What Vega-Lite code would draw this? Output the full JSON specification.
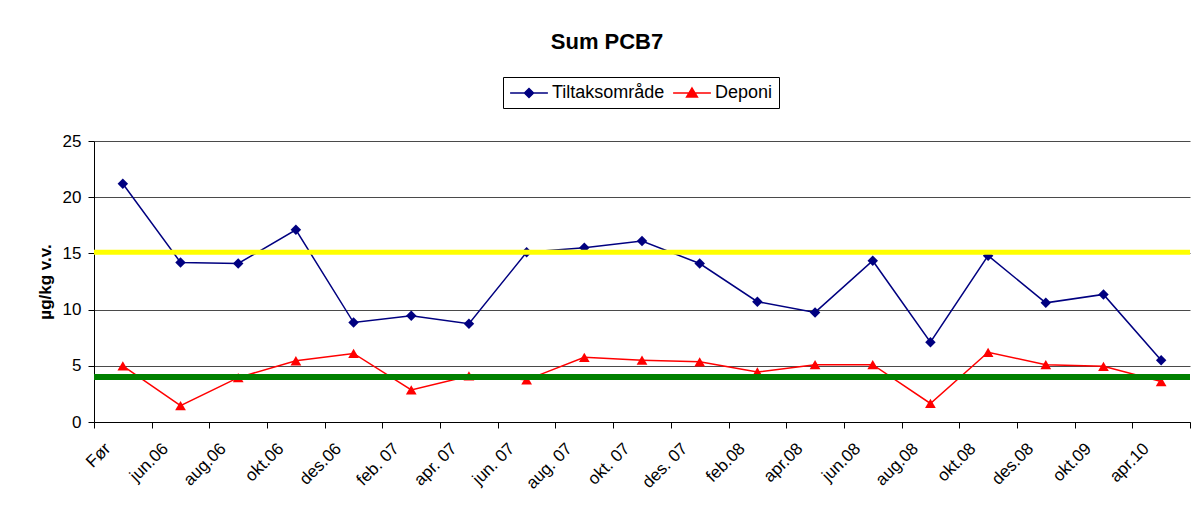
{
  "$schema": "https://vega.github.io/schema/vega-lite/v6.json",
  "autosize": {"type": "none"},
  "padding": {"left": 94, "top": 141, "right": 2, "bottom": 84},
  "width": 1096,
  "height": 281,
  "background": "#ffffff",
  "config": {
    "font": "Liberation Sans",
    "view": {"stroke": null}
  },
  "title": {
    "text": "Sum PCB7",
    "font": "Liberation Sans",
    "fontSize": 22,
    "fontWeight": "bold",
    "color": "#000000",
    "anchor": "middle",
    "frame": "group",
    "baseline": "alphabetic",
    "dx": -35,
    "offset": 6
  },
  "datasets": {
    "maalinger": [
      {"dato": "Før", "serie": "Tiltaksområde", "verdi": 21.2},
      {"dato": "jun.06", "serie": "Tiltaksområde", "verdi": 14.2},
      {"dato": "aug.06", "serie": "Tiltaksområde", "verdi": 14.1},
      {"dato": "okt.06", "serie": "Tiltaksområde", "verdi": 17.1},
      {"dato": "des.06", "serie": "Tiltaksområde", "verdi": 8.85},
      {"dato": "feb. 07", "serie": "Tiltaksområde", "verdi": 9.45},
      {"dato": "apr. 07", "serie": "Tiltaksområde", "verdi": 8.75},
      {"dato": "jun. 07", "serie": "Tiltaksområde", "verdi": 15.1},
      {"dato": "aug. 07", "serie": "Tiltaksområde", "verdi": 15.5},
      {"dato": "okt. 07", "serie": "Tiltaksområde", "verdi": 16.1},
      {"dato": "des. 07", "serie": "Tiltaksområde", "verdi": 14.1},
      {"dato": "feb.08", "serie": "Tiltaksområde", "verdi": 10.7},
      {"dato": "apr.08", "serie": "Tiltaksområde", "verdi": 9.75},
      {"dato": "jun.08", "serie": "Tiltaksområde", "verdi": 14.35},
      {"dato": "aug.08", "serie": "Tiltaksområde", "verdi": 7.1},
      {"dato": "okt.08", "serie": "Tiltaksområde", "verdi": 14.8},
      {"dato": "des.08", "serie": "Tiltaksområde", "verdi": 10.6},
      {"dato": "okt.09", "serie": "Tiltaksområde", "verdi": 11.35},
      {"dato": "apr.10", "serie": "Tiltaksområde", "verdi": 5.5},
      {"dato": "Før", "serie": "Deponi", "verdi": 5.0},
      {"dato": "jun.06", "serie": "Deponi", "verdi": 1.45},
      {"dato": "aug.06", "serie": "Deponi", "verdi": 3.95},
      {"dato": "okt.06", "serie": "Deponi", "verdi": 5.45},
      {"dato": "des.06", "serie": "Deponi", "verdi": 6.1},
      {"dato": "feb. 07", "serie": "Deponi", "verdi": 2.85},
      {"dato": "apr. 07", "serie": "Deponi", "verdi": 4.1},
      {"dato": "jun. 07", "serie": "Deponi", "verdi": 3.75},
      {"dato": "aug. 07", "serie": "Deponi", "verdi": 5.75},
      {"dato": "okt. 07", "serie": "Deponi", "verdi": 5.5},
      {"dato": "des. 07", "serie": "Deponi", "verdi": 5.35},
      {"dato": "feb.08", "serie": "Deponi", "verdi": 4.45},
      {"dato": "apr.08", "serie": "Deponi", "verdi": 5.1},
      {"dato": "jun.08", "serie": "Deponi", "verdi": 5.1},
      {"dato": "aug.08", "serie": "Deponi", "verdi": 1.65},
      {"dato": "okt.08", "serie": "Deponi", "verdi": 6.2},
      {"dato": "des.08", "serie": "Deponi", "verdi": 5.1},
      {"dato": "okt.09", "serie": "Deponi", "verdi": 4.95},
      {"dato": "apr.10", "serie": "Deponi", "verdi": 3.6}
    ],
    "grenser": [
      {"navn": "øvre", "verdi": 15.1},
      {"navn": "nedre", "verdi": 4.0}
    ]
  },
  "layer": [
    {
      "data": {"name": "maalinger"},
      "encoding": {
        "x": {
          "field": "dato",
          "type": "ordinal",
          "sort": null,
          "scale": {"paddingInner": 0, "paddingOuter": 0},
          "axis": {
            "title": null,
            "tickBand": "extent",
            "labelAngle": -45,
            "labelAlign": "right",
            "labelBaseline": "top",
            "labelOffset": -21,
            "labelPadding": 12,
            "labelFont": "Liberation Sans",
            "labelFontSize": 17,
            "labelColor": "#000000",
            "tickSize": 6,
            "tickColor": "#000000",
            "domainColor": "#000000",
            "grid": false,
            "labelOverlap": false
          }
        },
        "y": {
          "field": "verdi",
          "type": "quantitative",
          "scale": {"domain": [0, 25], "nice": false},
          "axis": {
            "title": "µg/kg v.v.",
            "titleFont": "Liberation Sans",
            "titleFontSize": 17,
            "titleFontWeight": "bold",
            "titleColor": "#000000",
            "titlePadding": 8,
            "values": [0, 5, 10, 15, 20, 25],
            "labelFont": "Liberation Sans",
            "labelFontSize": 17,
            "labelColor": "#000000",
            "labelPadding": 7,
            "tickSize": 6,
            "tickColor": "#000000",
            "domainColor": "#000000",
            "grid": true,
            "gridColor": "#4a4a4a",
            "gridWidth": 1
          }
        },
        "color": {
          "field": "serie",
          "type": "nominal",
          "sort": null,
          "scale": {"domain": ["Deponi", "Tiltaksområde"], "range": ["#FF0000", "#000080"]},
          "legend": null
        }
      },
      "layer": [
        {"mark": {"type": "line", "strokeWidth": 1.5}},
        {
          "transform": [{"filter": "datum.serie === 'Tiltaksområde'"}],
          "mark": {"type": "point", "shape": "diamond", "filled": true, "opacity": 1, "size": 110}
        },
        {
          "transform": [{"filter": "datum.serie === 'Deponi'"}],
          "mark": {"type": "point", "shape": "triangle-up", "filled": true, "opacity": 1, "size": 115}
        }
      ]
    },
    {
      "data": {"name": "grenser"},
      "transform": [{"filter": "datum.navn === 'øvre'"}],
      "mark": {"type": "rule", "color": "#FFFF00", "strokeWidth": 5},
      "encoding": {"y": {"field": "verdi", "type": "quantitative"}}
    },
    {
      "data": {"name": "grenser"},
      "transform": [{"filter": "datum.navn === 'nedre'"}],
      "mark": {"type": "rule", "color": "#008000", "strokeWidth": 6},
      "encoding": {"y": {"field": "verdi", "type": "quantitative"}}
    },
    {
      "data": {"name": "maalinger"},
      "mark": {"type": "point", "filled": true, "opacity": 0, "strokeWidth": 1.5},
      "encoding": {
        "fill": {
          "field": "serie",
          "type": "nominal",
          "sort": null,
          "scale": {"domain": ["Tiltaksområde", "Deponi"], "range": ["#000080", "#FF0000"]},
          "legend": {
            "orient": "none",
            "legendX": 409,
            "legendY": -64,
            "direction": "horizontal",
            "title": null,
            "strokeColor": "#000000",
            "fillColor": "#ffffff",
            "padding": 6,
            "symbolSize": 324,
            "symbolOffset": 10,
            "symbolOpacity": 1,
            "symbolStrokeWidth": 1.5,
            "labelOffset": 13,
            "columnPadding": 5,
            "labelFont": "Liberation Sans",
            "labelFontSize": 18,
            "labelColor": "#000000"
          }
        },
        "stroke": {
          "field": "serie",
          "type": "nominal",
          "sort": null,
          "scale": {"domain": ["Tiltaksområde", "Deponi"], "range": ["#000080", "#FF0000"]},
          "legend": {
            "orient": "none",
            "legendX": 409,
            "legendY": -64,
            "direction": "horizontal",
            "title": null,
            "strokeColor": "#000000",
            "fillColor": "#ffffff",
            "padding": 6,
            "symbolSize": 324,
            "symbolOffset": 10,
            "symbolOpacity": 1,
            "symbolStrokeWidth": 1.5,
            "labelOffset": 13,
            "columnPadding": 5,
            "labelFont": "Liberation Sans",
            "labelFontSize": 18,
            "labelColor": "#000000"
          }
        },
        "shape": {
          "field": "serie",
          "type": "nominal",
          "sort": null,
          "scale": {
            "domain": ["Tiltaksområde", "Deponi"],
            "range": ["M-2.1,0L2.1,0M0,-0.5L0.5,0L0,0.5L-0.5,0Z", "M-2.1,0L2.1,0M0,-0.55L0.6,0.45L-0.6,0.45Z"]
          },
          "legend": {
            "orient": "none",
            "legendX": 409,
            "legendY": -64,
            "direction": "horizontal",
            "title": null,
            "strokeColor": "#000000",
            "fillColor": "#ffffff",
            "padding": 6,
            "symbolSize": 324,
            "symbolOffset": 10,
            "symbolOpacity": 1,
            "symbolStrokeWidth": 1.5,
            "labelOffset": 13,
            "columnPadding": 5,
            "labelFont": "Liberation Sans",
            "labelFontSize": 18,
            "labelColor": "#000000"
          }
        }
      }
    }
  ]
}
